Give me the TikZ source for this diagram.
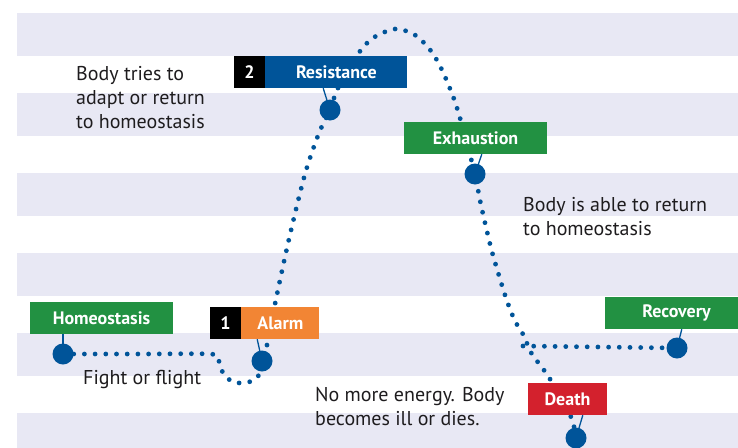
\documentclass[tikz,border=0pt]{standalone}
\usepackage{fontspec}
\setmainfont{PT Sans}
\usetikzlibrary{positioning}

\definecolor{stressblue}{RGB}{0,84,153}
\definecolor{stressgreen}{RGB}{34,145,66}
\definecolor{stressorange}{RGB}{242,133,52}
\definecolor{stressred}{RGB}{211,33,45}
\definecolor{stripe}{RGB}{232,232,244}
\definecolor{notetext}{RGB}{30,28,30}

\begin{document}
\begin{tikzpicture}[x=1pt,y=1pt,
    every node/.append style={inner sep=0pt},
    stagebox/.style={fill=#1, text=white, minimum height=32pt,
      font=\fontsize{18}{20}\selectfont\bfseries},
    numbox/.style={stagebox=black, minimum width=31pt},
    leader/.style={stressblue, line width=1.3pt},
    track/.style={stressblue, line width=4.8pt, line cap=round,
      dash pattern=on 0pt off 10.7pt},
    note/.style={anchor=west, align=left, text=notetext,
      font=\fontsize{20}{24}\selectfont}]
    \useasboundingbox (0,0) rectangle (738,-447);
    \clip (0,0) rectangle (738,-447);
    % stripes
    \fill [stripe] (17,-13) rectangle (738,-56);
    \fill [stripe] (17,-93) rectangle (738,-136);
    \fill [stripe] (17,-173) rectangle (738,-216);
    \fill [stripe] (17,-253) rectangle (738,-296);
    \fill [stripe] (17,-333) rectangle (738,-376);
    \fill [stripe] (17,-413) rectangle (738,-456);
    % points on the curve
    \coordinate (homept) at (63,-354);
    \coordinate (alarmpt) at (262,-361);
    \coordinate (resistpt) at (330,-110);
    \coordinate (exhaustpt) at (475,-174);
    \coordinate (splitpt) at (523,-346);
    \coordinate (recovpt) at (677,-348);
    \coordinate (deathpt) at (576,-438);
    % the curve
    \draw [track] plot [smooth, tension=0.5] coordinates {(homept) (140,-354)
      (210,-354) (218,-359) (222,-371) (231,-381) (241,-383) (252,-381)
      (259,-375) (alarmpt) (267,-345) (275,-304) (289,-239) (305,-174)
      (319,-133) (resistpt) (338,-88) (358,-54) (373,-38) (395,-29)
      (415,-35) (431,-51) (442,-70) (454,-99) (462,-125) (470,-155)
      (exhaustpt) (481,-205) (491,-248) (500,-279) (507,-301) (515,-321)
      (524,-336) (530,-351) (537,-361) (550,-379) (571,-417) (deathpt)};
    \draw [track] (splitpt) -- (recovpt);
    % stages
    \node [numbox] (num2) at (249.5,-72) {2};
    \node [stagebox=stressblue, minimum width=142pt, right=0pt of num2] (resist) {Resistance};
    \node [stagebox=stressgreen, minimum width=143pt] (exhaust) at (475.5,-138) {Exhaustion};
    \node [stagebox=stressgreen, minimum width=143pt] (homeo) at (101.5,-318) {Homeostasis};
    \node [numbox] (num1) at (225.5,-323) {1};
    \node [stagebox=stressorange, minimum width=78pt, right=0pt of num1] (alarm) {Alarm};
    \node [stagebox=stressgreen, minimum width=143pt] (recov) at (676.5,-313) {Recovery};
    \node [stagebox=stressred, minimum width=79pt] (death) at (567.5,-399) {Death};
    % leaders and dots
    \draw [leader] (homept) -- (homept |- homeo.south);
    \draw [leader] (alarmpt) -- ([xshift=16pt]alarm.south west);
    \draw [leader] (resistpt) -- ([xshift=58pt]resist.south west);
    \draw [leader] (exhaustpt) -- ([xshift=78pt]exhaust.south west);
    \draw [leader] (recovpt) -- ([xshift=77pt]recov.south west);
    \draw [leader] (deathpt) -- ([xshift=55pt]death.south west);
    \fill [stressblue] (homept) circle (10.5);
    \fill [stressblue] (alarmpt) circle (10.5);
    \fill [stressblue] (resistpt) circle (10.5);
    \fill [stressblue] (exhaustpt) circle (10.5);
    \fill [stressblue] (recovpt) circle (10.5);
    \fill [stressblue] (deathpt) circle (10.5);
    % notes
    \node [note] (triesnote) at (76,-97.5) {Body tries to\\adapt or return\\to homeostasis};
    \node [note] (ablenote) at (523,-216.5) {Body is able to return\\to homeostasis};
    \node [note] (energynote) at (315,-407) {No more energy. Body\\becomes ill or dies.};
    \node [note] (fightnote) at (83,-379) {Fight or flight};
\end{tikzpicture}
\end{document}
